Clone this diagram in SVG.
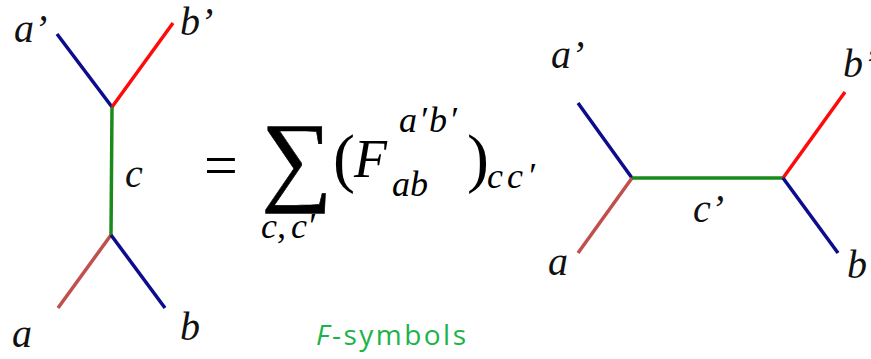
<svg xmlns="http://www.w3.org/2000/svg" width="871" height="359" viewBox="0 0 871 359">
<style>
.e{fill:none;stroke-width:3.5;stroke-linecap:butt}
.bl{stroke:#0c0c8c}.rd{stroke:#ff0a0a}.gr{stroke:#1a8a1a}.br{stroke:#c0504d}
.lb{font-family:"Liberation Serif",serif;font-style:italic;font-size:40px;fill:#111}
.m{font-family:"Liberation Serif",serif;fill:#000}
.mi{font-family:"Liberation Serif",serif;font-style:italic;fill:#000}
.fs{font-family:"Open Sans","Liberation Sans",sans-serif;font-size:28px;fill:#1db34a}
</style>
<rect width="871" height="359" fill="#fff"/>
<g id="connectors">
<line class="e bl" x1="57" y1="34" x2="112" y2="107"/>
<line class="e rd" x1="112" y1="107" x2="173" y2="23"/>
<line class="e gr" x1="112" y1="107" x2="111" y2="235"/>
<line class="e br" x1="111" y1="235" x2="58" y2="308"/>
<line class="e bl" x1="111" y1="235" x2="165" y2="308"/>
<line class="e bl" x1="578" y1="103" x2="632" y2="178"/>
<line class="e br" x1="632" y1="178" x2="578" y2="253"/>
<line class="e gr" x1="632" y1="178" x2="783" y2="178"/>
<line class="e rd" x1="783" y1="178" x2="845" y2="92"/>
<line class="e bl" x1="783" y1="178" x2="838" y2="253"/>
</g>
<g id="left-labels">
<text class="lb" x="14" y="42">a’</text>
<text class="lb" x="180" y="35">b’</text>
<text class="lb" x="125" y="187">c</text>
<text class="lb" x="12" y="347">a</text>
<text class="lb" x="180" y="340">b</text>
</g>
<g id="right-labels">
<text class="lb" x="551" y="68">a’</text>
<text class="lb" x="843" y="77">b’</text>
<text class="lb" x="693" y="222">c’</text>
<text class="lb" x="548" y="275">a</text>
<text class="lb" x="847" y="278">b</text>
</g>
<g id="formula">
<text class="m" x="204" y="185" font-size="60">=</text>
<text class="m" x="261" y="192" font-size="100" stroke="#000" stroke-width="0.6">∑</text>
<text class="m" x="333" y="180" font-size="66">(</text>
<text class="mi" x="354" y="177" font-size="54">F</text>
<text class="mi" x="399" y="132" font-size="36" letter-spacing="2">a′b′</text>
<text class="mi" x="392" y="196" font-size="36">ab</text>
<text class="m" x="467" y="180" font-size="66">)</text>
<text class="mi" x="487" y="188" font-size="36" letter-spacing="4">cc′</text>
<text class="mi" x="261" y="238" font-size="36">c,</text>
<text class="mi" x="291" y="238" font-size="36">c′</text>
</g>
<g id="caption">
<text class="fs" x="316" y="345" textLength="150" lengthAdjust="spacing"><tspan font-style="italic">F</tspan>-symbols</text>
</g>
</svg>
